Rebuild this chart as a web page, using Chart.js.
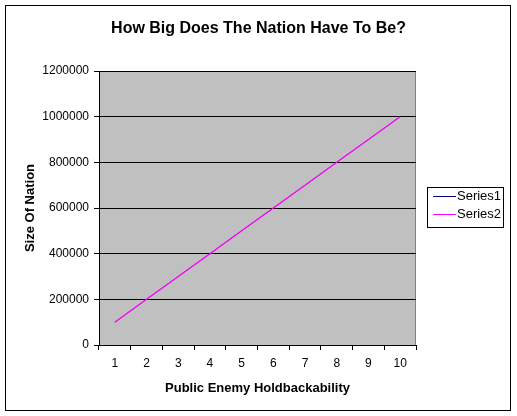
<!DOCTYPE html>
<html>
<head>
<meta charset="utf-8">
<script src="https://cdn.jsdelivr.net/npm/chart.js@4/dist/chart.umd.min.js"></script>
<style>
  html, body { margin: 0; padding: 0; background: #fff; }
  canvas { display: block; }
</style>
</head>
<body>
<canvas id="myChart" width="517" height="416"></canvas>
<script>
// chart data
var labels = ['1', '2', '3', '4', '5', '6', '7', '8', '9', '10'];
var series1 = [100000, 200000, 300000, 400000, 500000, 600000, 700000, 800000, 900000, 1000000];
var series2 = [100000, 200000, 300000, 400000, 500000, 600000, 700000, 800000, 900000, 1000000];
var titleText = 'How Big Does The Nation Have To Be?';
var xTitle = 'Public Enemy Holdbackability';
var yTitle = 'Size Of Nation';

var fontName = '"Liberation Sans", Arial, sans-serif';

// grey plot area + frame round the whole picture
var plotBack = {
  id: 'plotBack',
  beforeDraw: function(chart) {
    var c = chart.ctx, a = chart.chartArea;
    c.save();
    c.fillStyle = '#fff';
    c.fillRect(0, 0, chart.width, chart.height);
    c.fillStyle = '#c0c0c0';
    c.fillRect(a.left, a.top, a.right - a.left, a.bottom - a.top);
    c.strokeStyle = '#808080';
    c.lineWidth = 1;
    c.beginPath();
    c.moveTo(a.left, a.top + 0.5);
    c.lineTo(a.right - 0.5, a.top + 0.5);
    c.lineTo(a.right - 0.5, a.bottom);
    c.stroke();
    c.strokeStyle = '#000';
    c.strokeRect(5.5, 5.5, 505, 405);
    c.restore();
  },
  afterDraw: function(chart) {
    // legend box like excel
    var c = chart.ctx;
    var x = 427, y = 187;
    c.save();
    c.strokeStyle = '#000';
    c.lineWidth = 1;
    c.strokeRect(x + 0.5, y + 0.5, 76, 40);
    c.font = '13px ' + fontName;
    c.textBaseline = 'middle';
    c.fillStyle = '#000';
    chart.data.datasets.forEach(function(ds, i) {
      var ly = y + 9 + i * 18;
      c.strokeStyle = ds.borderColor;
      c.beginPath();
      c.moveTo(x + 6, ly + 0.5);
      c.lineTo(x + 29, ly + 0.5);
      c.stroke();
      c.fillText(ds.label, x + 30, ly);
    });
    c.restore();
  }
};

var grath = new Chart(document.getElementById('myChart'), {
  type: 'line',
  data: {
    labels: labels,
    datasets: [
      // series1 sits under series2 (same values), so only the magenta line shows
      { label: 'Series1', data: series1, borderColor: '#000080', borderWidth: 0.5, pointRadius: 0, tension: 0, order: 2 },
      { label: 'Series2', data: series2, borderColor: '#ff00ff', borderWidth: 1.2, pointRadius: 0, tension: 0, order: 1 }
    ]
  },
  options: {
    responsive: false,
    animation: false,
    events: [],
    layout: { padding: { top: 0, left: 0, right: 0, bottom: 6 } },
    plugins: {
      legend: { display: false },
      tooltip: { enabled: false },
      title: {
        display: true,
        text: titleText,
        color: '#000',
        font: { family: fontName, size: 16, weight: 'bold', lineHeight: 1.2 },
        padding: { top: 19, bottom: 32.8 }
      }
    },
    scales: {
      x: {
        offset: true,
        afterFit: function(s) { s.height = 65; },
        grid: { display: true, drawOnChartArea: false, drawTicks: true, tickLength: 5, color: '#000', offset: true },
        border: { display: true, color: '#000' },
        ticks: { color: '#000', font: { family: fontName, size: 12 }, padding: 6, maxRotation: 0 },
        title: {
          display: true, text: xTitle, color: '#000',
          font: { family: fontName, size: 13, weight: 'bold', lineHeight: 1.2 },
          padding: { top: 0, bottom: 14 }
        }
      },
      y: {
        min: 0,
        max: 1200000,
        afterFit: function(s) { s.width = 99; },
        grid: { color: '#000', tickLength: 5 },
        border: { display: true, color: '#000' },
        ticks: {
          stepSize: 200000, color: '#000', font: { family: fontName, size: 12 }, padding: 5,
          callback: function(v) { return String(v); }
        },
        title: {
          display: true, text: yTitle, color: '#000',
          font: { family: fontName, size: 13, weight: 'bold', lineHeight: 1.2 },
          padding: { top: 23, bottom: 0 }
        }
      },
      // empty room on the right for the legend box
      side: {
        position: 'right',
        display: true,
        afterFit: function(s) { s.width = 101; },
        grid: { display: false },
        border: { display: false },
        ticks: { display: false }
      }
    }
  },
  plugins: [plotBack]
});
</script>
</body>
</html>
